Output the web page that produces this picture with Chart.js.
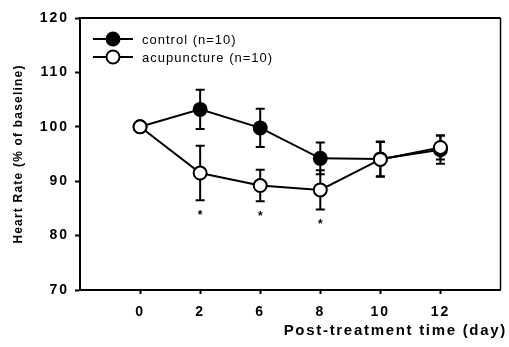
<!DOCTYPE html>
<html>
<head>
<meta charset="utf-8">
<script src="https://cdn.jsdelivr.net/npm/chart.js@4.4.1/dist/chart.umd.min.js"></script>
<style>
html,body{margin:0;padding:0;background:#fff;}
canvas{display:block;}
</style>
</head>
<body>
<canvas id="c" width="509" height="347"></canvas>
<script>
// ---- data ----
const days = ['0', '2', '6', '8', '10', '12'];
const controlLabel = 'control (n=10)';
const controlMean = [100, 103.2, 99.8, 94.2, 94.1, 95.8];
const controlErr  = [0, 3.6, 3.5, 2.9, 3.2, 2.6];
const acuLabel = 'acupuncture (n=10)';
const acuMean = [100, 91.5, 89.2, 88.4, 94.0, 96.2];
const acuErr  = [0, 5.0, 2.9, 3.6, 3.2, 2.2];
const acuSig  = [false, true, true, true, false, false];
const yTicks = [70, 80, 90, 100, 110, 120];
const xTitle = 'Post-treatment time (day)';
const yTitle = 'Heart Rate (% of baseline)';

const FONT = '"Liberation Sans", Arial, sans-serif';
const toPts = arr => arr.map((v, i) => ({x: i, y: v}));

const errs = [controlErr, acuErr];

const errorBars = {
  id: 'errorBars',
  beforeDatasetsDraw(chart) {
    const ctx = chart.ctx, y = chart.scales.y, x = chart.scales.x;
    ctx.save();
    ctx.strokeStyle = '#000';
    ctx.lineWidth = 2;
    chart.data.datasets.forEach((ds, di) => {
      ds.data.forEach((p, i) => {
        const e = errs[di][i];
        if (!e) return;
        const px = x.getPixelForValue(p.x);
        const top = y.getPixelForValue(p.y + e);
        const bot = y.getPixelForValue(p.y - e);
        ctx.beginPath();
        ctx.moveTo(px, top); ctx.lineTo(px, bot);
        ctx.moveTo(px - 4.5, top); ctx.lineTo(px + 4.5, top);
        ctx.moveTo(px - 4.5, bot); ctx.lineTo(px + 4.5, bot);
        ctx.stroke();
      });
    });
    ctx.restore();
  }
};

const extras = {
  id: 'extras',
  beforeDraw(chart) {
    chart.ctx.letterSpacing = '2px';
  },
  afterDraw(chart) {
    const ctx = chart.ctx, a = chart.chartArea, x = chart.scales.x, y = chart.scales.y;
    ctx.save();
    ctx.letterSpacing = '0px';
    // frame top and right
    ctx.strokeStyle = '#000';
    ctx.lineWidth = 2;
    ctx.beginPath();
    ctx.moveTo(a.left, a.top); ctx.lineTo(a.right, a.top);
    ctx.stroke();
    ctx.lineWidth = 1.5;
    ctx.beginPath();
    ctx.moveTo(a.right, a.top); ctx.lineTo(a.right, a.bottom);
    ctx.stroke();
    // asterisks
    ctx.fillStyle = '#000';
    ctx.font = 'bold 12px ' + FONT;
    ctx.textAlign = 'center';
    ctx.textBaseline = 'middle';
    acuSig.forEach((s, i) => {
      if (!s) return;
      const px = x.getPixelForValue(i);
      const py = y.getPixelForValue(acuMean[i] - acuErr[i]);
      ctx.fillText('*', px, py + 15);
    });
    // axis titles
    ctx.font = 'bold 15px ' + FONT;
    ctx.letterSpacing = '1.7px';
    ctx.textAlign = 'right';
    ctx.textBaseline = 'middle';
    ctx.fillText(xTitle, 507, 331);
    ctx.save();
    ctx.translate(19, (a.top + a.bottom) / 2);
    ctx.rotate(-Math.PI / 2);
    ctx.font = 'bold 12px ' + FONT;
    ctx.letterSpacing = '1.2px';
    ctx.textAlign = 'center';
    ctx.fillText(yTitle, 0, 0);
    ctx.restore();
    // legend
    const items = [
      {label: controlLabel, fill: '#000', yy: 39},
      {label: acuLabel, fill: '#fff', yy: 57}
    ];
    ctx.font = '13px ' + FONT;
    ctx.letterSpacing = '1px';
    ctx.textAlign = 'left';
    ctx.textBaseline = 'middle';
    items.forEach(it => {
      ctx.lineWidth = 2;
      ctx.beginPath();
      ctx.moveTo(93, it.yy); ctx.lineTo(133, it.yy);
      ctx.stroke();
      ctx.beginPath();
      ctx.arc(113, it.yy, 6.5, 0, Math.PI * 2);
      ctx.fillStyle = it.fill;
      ctx.fill();
      ctx.stroke();
      ctx.fillStyle = '#000';
      ctx.fillText(it.label, 142, it.yy + 1);
    });
    ctx.restore();
  }
};

new Chart(document.getElementById('c'), {
  type: 'line',
  data: {
    datasets: [
      {
        label: controlLabel,
        data: toPts(controlMean),
        borderColor: '#000', borderWidth: 2,
        pointRadius: 6.5, pointBorderWidth: 2,
        pointBackgroundColor: '#000', pointBorderColor: '#000',
        fill: false, tension: 0, order: 2
      },
      {
        label: acuLabel,
        data: toPts(acuMean),
        borderColor: '#000', borderWidth: 2,
        pointRadius: 6.5, pointBorderWidth: 2,
        pointBackgroundColor: '#fff', pointBorderColor: '#000',
        fill: false, tension: 0, order: 1
      }
    ]
  },
  options: {
    responsive: false,
    animation: false,
    events: [],
    layout: {padding: {top: 18, right: 2, left: 0, bottom: 0}},
    plugins: {legend: {display: false}, tooltip: {enabled: false}},
    scales: {
      x: {
        type: 'linear', min: -1, max: 6,
        afterBuildTicks: ax => { ax.ticks = days.map((d, i) => ({value: i})); },
        afterFit: s => { s.height = 57; },
        grid: {drawOnChartArea: false, drawTicks: true, tickLength: 4, tickWidth: 2, tickColor: '#000'},
        border: {display: true, width: 2, color: '#000'},
        ticks: {
          color: '#000', font: {family: FONT, size: 14, weight: 'bold'},
          padding: 10, maxRotation: 0, autoSkip: false,
          callback: v => days[v]
        },
        title: {display: false}
      },
      y: {
        min: 70, max: 120,
        afterBuildTicks: ax => { ax.ticks = yTicks.map(v => ({value: v})); },
        afterFit: s => { s.width = 80; },
        grid: {drawOnChartArea: false, drawTicks: true, tickLength: 5, tickWidth: 2, tickColor: '#000'},
        border: {display: true, width: 2, color: '#000'},
        ticks: {
          color: '#000', font: {family: FONT, size: 14, weight: 'bold'},
          padding: 6
        },
        title: {display: false}
      }
    }
  },
  plugins: [errorBars, extras]
});
</script>
</body>
</html>
